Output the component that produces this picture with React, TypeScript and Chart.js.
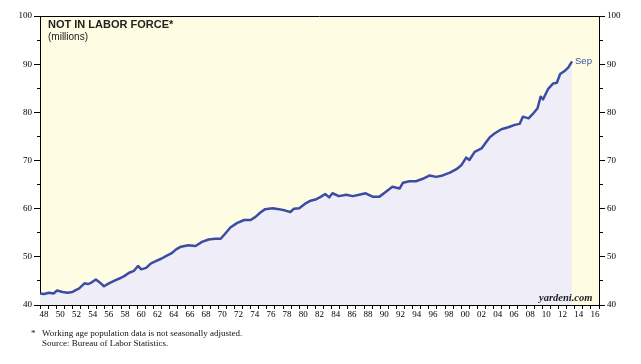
import React, { useEffect, useRef } from 'react';
import { Chart, registerables } from 'chart.js';

Chart.register(...registerables);

// Decimal year of each reading (monthly series)
const years = [
  1948.0, 1948.5, 1949.1, 1949.7, 1950.1, 1950.8, 1951.4, 1952.0, 1952.4, 1952.8,
  1953.5, 1953.9, 1954.3, 1954.9, 1955.3, 1955.9, 1956.5, 1957.2, 1957.8, 1958.4,
  1959.0, 1959.6, 1960.1, 1960.5, 1961.1, 1961.7, 1962.3, 1962.95, 1963.6, 1964.2,
  1964.8, 1965.4, 1966.3, 1967.2, 1968.0, 1968.8, 1969.6, 1970.3, 1970.9, 1971.5,
  1972.3, 1973.2, 1974.0, 1974.6, 1975.2, 1975.8, 1976.7, 1977.5, 1978.3, 1978.9,
  1979.35, 1980.0, 1980.8, 1981.4, 1982.0, 1982.7, 1983.2, 1983.7, 1984.1, 1984.9,
  1985.8, 1986.6, 1987.4, 1988.2, 1989.05, 1989.9, 1990.7, 1991.5, 1992.4, 1992.8,
  1993.6, 1994.4, 1995.25, 1996.1, 1996.9, 1997.7, 1998.6, 1999.4, 2000.0, 2000.6,
  2001.0, 2001.65, 2002.5, 2003.1, 2003.5, 2004.1, 2004.95, 2005.8, 2006.6, 2007.2,
  2007.6, 2008.3, 2008.9, 2009.4, 2009.8, 2010.1, 2010.7, 2011.35, 2011.8, 2012.2,
  2012.8, 2013.2, 2013.67,
];

// Not in labor force, millions
const notInLaborForce = [
  42.4, 42.3, 42.55, 42.4, 43.0, 42.7, 42.55, 42.7, 43.1, 43.4,
  44.5, 44.35, 44.6, 45.3, 44.8, 43.9, 44.5, 45.05, 45.5, 46.0,
  46.7, 47.1, 48.1, 47.4, 47.7, 48.65, 49.1, 49.6, 50.2, 50.7,
  51.55, 52.1, 52.4, 52.25, 53.1, 53.6, 53.75, 53.75, 54.9, 56.1,
  57.0, 57.65, 57.65, 58.3, 59.2, 59.9, 60.1, 59.9, 59.6, 59.3,
  60.0, 60.1, 61.1, 61.65, 61.9, 62.5, 63.05, 62.35, 63.2, 62.6,
  62.9, 62.6, 62.9, 63.2, 62.5, 62.5, 63.5, 64.55, 64.2, 65.4,
  65.7, 65.7, 66.2, 66.9, 66.6, 66.9, 67.5, 68.2, 69.0, 70.6,
  70.1, 71.8, 72.5, 73.9, 74.8, 75.6, 76.5, 76.9, 77.4, 77.6,
  79.1, 78.75, 79.8, 80.8, 83.25, 82.7, 84.8, 86.0, 86.15, 87.95,
  88.65, 89.3, 90.6,
];

// One category per calendar year on the bottom axis, 1948..2016
const yearTickLabels = [
  '48', '49', '50', '51', '52', '53', '54', '55', '56', '57',
  '58', '59', '60', '61', '62', '63', '64', '65', '66', '67',
  '68', '69', '70', '71', '72', '73', '74', '75', '76', '77',
  '78', '79', '80', '81', '82', '83', '84', '85', '86', '87',
  '88', '89', '90', '91', '92', '93', '94', '95', '96', '97',
  '98', '99', '00', '01', '02', '03', '04', '05', '06', '07',
  '08', '09', '10', '11', '12', '13', '14', '15', '16',
];

const yMin = 40;
const yMax = 100;
const yStep = 5;
const lastLabel = 'Sep';

const LINE = '#3A4DA3';
const PLOT_BG = '#FEFDE4';
const FILL = '#EFEDF8';
const TICK_FONT = { family: '"Liberation Serif", "Times New Roman", serif', size: 9 };

const bgPlugin = {
  id: 'plotBg',
  beforeDraw(chart: any) {
    const { ctx, chartArea: a } = chart;
    ctx.save();
    ctx.fillStyle = PLOT_BG;
    ctx.fillRect(a.left, a.top, a.right - a.left, a.bottom - a.top);
    ctx.restore();
  },
  afterDraw(chart: any) {
    const { ctx, chartArea: a } = chart;
    ctx.save();
    ctx.strokeStyle = '#000';
    ctx.lineWidth = 1;
    ctx.beginPath();
    ctx.moveTo(a.left, a.top + 0.5);
    ctx.lineTo(a.right, a.top + 0.5);
    ctx.stroke();
    ctx.restore();
  },
};

const endLabelPlugin = {
  id: 'endLabel',
  afterDatasetsDraw(chart: any) {
    const meta = chart.getDatasetMeta(0);
    const pt = meta.data[meta.data.length - 1];
    if (!pt) return;
    const { ctx } = chart;
    ctx.save();
    ctx.font = '9.5px "Liberation Sans", Arial, sans-serif';
    ctx.fillStyle = LINE;
    ctx.textBaseline = 'middle';
    ctx.textAlign = 'left';
    ctx.fillText(lastLabel, pt.x + 3, pt.y);
    ctx.restore();
  },
};

function yAxis(position: 'left' | 'right', width: number) {
  return {
    type: 'linear',
    position,
    min: yMin,
    max: yMax,
    afterFit(scale: any) {
      scale.width = width;
    },
    border: { display: true, color: '#000', width: 1 },
    grid: {
      drawOnChartArea: false,
      drawTicks: true,
      tickLength: 6,
      tickColor: '#000',
      tickWidth: 1,
      tickBorderDash: (c: any) => {
        const v = c.tick ? c.tick.value : 0;
        if (v % 10 === 0) return [];
        return position === 'left' ? [0, 3, 3, 100] : [3, 100];
      },
    },
    ticks: {
      stepSize: yStep,
      autoSkip: false,
      padding: 2,
      color: '#000',
      font: TICK_FONT,
      callback: (v: any) => (Number(v) % 10 === 0 ? String(v) : ''),
    },
  };
}

export default function App() {
  const ref = useRef<HTMLCanvasElement | null>(null);

  useEffect(() => {
    if (!ref.current) return;
    const chart = new Chart(ref.current, {
      type: 'line',
      data: {
        datasets: [
          {
            data: years.map((x, i) => ({ x, y: notInLaborForce[i] })),
            xAxisID: 'x',
            yAxisID: 'y',
            borderColor: LINE,
            borderWidth: 2.5,
            backgroundColor: FILL,
            fill: 'start',
            pointRadius: 0,
            tension: 0,
            borderJoinStyle: 'round',
          },
        ],
      },
      options: {
        responsive: false,
        animation: false,
        layout: { padding: { top: 16, left: 0, right: 0, bottom: 0 } },
        plugins: { legend: { display: false }, tooltip: { enabled: false } },
        scales: {
          x: {
            type: 'linear',
            display: false,
            min: 1948,
            max: 2017,
          },
          xc: {
            type: 'category',
            axis: 'x',
            position: 'bottom',
            labels: yearTickLabels,
            offset: true,
            afterFit(scale: any) {
              scale.height = 59;
            },
            border: { display: true, color: '#000', width: 1 },
            grid: {
              offset: true,
              drawOnChartArea: false,
              drawTicks: true,
              tickLength: 4,
              tickColor: '#000',
            },
            ticks: {
              autoSkip: false,
              maxRotation: 0,
              minRotation: 0,
              padding: 0,
              color: '#000',
              font: TICK_FONT,
              callback: (_v: any, i: number) => (i % 2 === 0 ? yearTickLabels[i] : ''),
            },
          },
          y: yAxis('left', 40),
          y2: yAxis('right', 42),
        },
      } as any,
      plugins: [bgPlugin, endLabelPlugin],
    });
    return () => chart.destroy();
  }, []);

  const sans = '"Liberation Sans", Arial, sans-serif';
  const serif = '"Liberation Serif", "Times New Roman", serif';

  return (
    <div style={{ position: 'fixed', left: 0, top: 0, width: 641, height: 364, background: '#fff' }}>
      <canvas ref={ref} width={641} height={364} style={{ position: 'absolute', left: 0, top: 0 }} />
      <div style={{ position: 'absolute', left: 48, top: 18, font: `bold 11px ${sans}`, lineHeight: '13px', color: '#222', whiteSpace: 'nowrap' }}>
        NOT IN LABOR FORCE*
      </div>
      <div style={{ position: 'absolute', left: 48, top: 31, font: `10px ${sans}`, lineHeight: '12px', color: '#222', whiteSpace: 'nowrap' }}>
        (millions)
      </div>
      <div style={{ position: 'absolute', left: 539, top: 292, font: `italic bold 10.5px ${serif}`, lineHeight: '12px', color: '#222', whiteSpace: 'nowrap' }}>
        yardeni.com
      </div>
      <div style={{ position: 'absolute', left: 31, top: 328, font: `9px ${serif}`, lineHeight: '10px', color: '#111', whiteSpace: 'nowrap' }}>
        *
      </div>
      <div style={{ position: 'absolute', left: 42, top: 329, font: `9px ${serif}`, lineHeight: '9.5px', color: '#111', whiteSpace: 'nowrap' }}>
        Working age population data is not seasonally adjusted.
        <br />
        Source: Bureau of Labor Statistics.
      </div>
    </div>
  );
}
